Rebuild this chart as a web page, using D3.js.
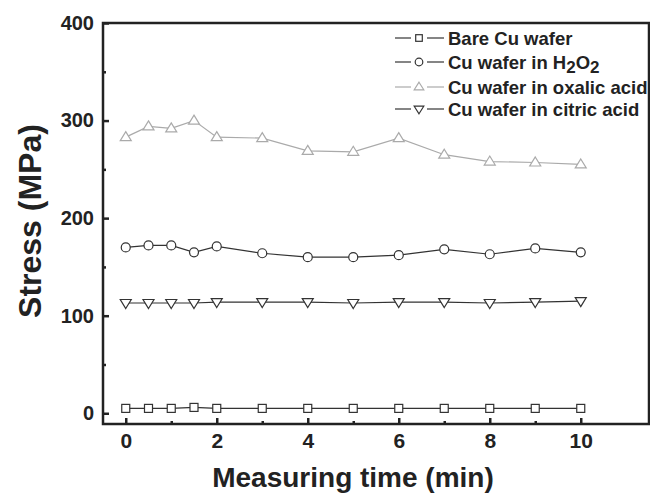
<!DOCTYPE html>
<html>
<head>
<meta charset="utf-8">
<script src="https://cdn.jsdelivr.net/npm/d3@7"></script>
<style>
  body { margin: 0; background: #fff; }
  text { font-family: "Liberation Sans", Arial, sans-serif; font-weight: bold; fill: #222; }
</style>
</head>
<body>
<svg id="chart" width="650" height="500"></svg>
<script>
// measuring times (min)
const times = [0, 0.5, 1, 1.5, 2, 3, 4, 5, 6, 7, 8, 9, 10];

const bareCu = [5, 5, 5, 6, 5, 5, 5, 5, 5, 5, 5, 5, 5];
const h2o2 = [170, 172, 172, 165, 171, 164, 160, 160, 162, 168, 163, 169, 165];
const oxalic = [283, 294, 292, 300, 283, 282, 269, 268, 282, 265, 258, 257, 255];
const citric = [113, 113, 113, 113, 114, 114, 114, 113, 114, 114, 113, 114, 115];

const xTicks = [0, 2, 4, 6, 8, 10];
const yTicks = [0, 100, 200, 300, 400];

const series = [
  {name: "Bare Cu wafer", values: bareCu, shape: "square", color: "#333"},
  {name: "Cu wafer in H2O2", values: h2o2, shape: "circle", color: "#333"},
  {name: "Cu wafer in oxalic acid", values: oxalic, shape: "up", color: "#aaa"},
  {name: "Cu wafer in citric acid", values: citric, shape: "down", color: "#333"}
];

const svg = d3.select("#chart");
const mLeft = 103, mRight = 649, mTop = 23, mBottom = 424;

const x = d3.scaleLinear().domain([-0.5, 11.5]).range([mLeft, mRight]);
const y = d3.scaleLinear().domain([-11, 400]).range([mBottom, mTop]);

// frame
svg.append("rect")
  .attr("x", mLeft).attr("y", mTop)
  .attr("width", mRight - mLeft).attr("height", mBottom - mTop)
  .attr("fill", "none").attr("stroke", "#222").attr("stroke-width", 2.5);

// x ticks (inside)
const xAxis = svg.append("g").attr("transform", `translate(0,${mBottom})`)
  .call(d3.axisBottom(x).tickValues(xTicks).tickSizeInner(-6).tickSizeOuter(0).tickPadding(9));
xAxis.select(".domain").remove();
xAxis.selectAll("line").attr("stroke", "#222").attr("stroke-width", 2.5);
xAxis.selectAll("text").attr("font-size", 21).attr("fill", "#222")
  .attr("font-family", "Liberation Sans, Arial, sans-serif").attr("font-weight", "bold");

const xMinor = svg.append("g").attr("transform", `translate(0,${mBottom})`)
  .call(d3.axisBottom(x).tickValues([1, 3, 5, 7, 9]).tickSizeInner(-3).tickSizeOuter(0).tickFormat(""));
xMinor.select(".domain").remove();
xMinor.selectAll("line").attr("stroke", "#222").attr("stroke-width", 2.5);

// y ticks (inside)
const yAxis = svg.append("g").attr("transform", `translate(${mLeft},0)`)
  .call(d3.axisLeft(y).tickValues(yTicks).tickSizeInner(-6).tickSizeOuter(0).tickPadding(9));
yAxis.select(".domain").remove();
yAxis.selectAll("line").attr("stroke", "#222").attr("stroke-width", 2.5);
yAxis.selectAll("text").attr("font-size", 20).attr("fill", "#222")
  .attr("font-family", "Liberation Sans, Arial, sans-serif").attr("font-weight", "bold");

const yMinor = svg.append("g").attr("transform", `translate(${mLeft},0)`)
  .call(d3.axisLeft(y).tickValues([50, 150, 250, 350]).tickSizeInner(-3).tickSizeOuter(0).tickFormat(""));
yMinor.select(".domain").remove();
yMinor.selectAll("line").attr("stroke", "#222").attr("stroke-width", 2.5);

// axis titles
svg.append("text")
  .attr("x", 353).attr("y", 487)
  .attr("text-anchor", "middle").attr("font-size", 28)
  .text("Measuring time (min)");

svg.append("text")
  .attr("transform", "translate(41,221) rotate(-90)")
  .attr("text-anchor", "middle").attr("font-size", 32)
  .text("Stress (MPa)");

// marker drawing
function marker(g, shape, cx, cy, color, s) {
  if (shape === "square") {
    g.append("rect").attr("x", cx - s).attr("y", cy - s).attr("width", 2 * s).attr("height", 2 * s)
      .attr("fill", "#fff").attr("stroke", color).attr("stroke-width", 1.2);
  } else if (shape === "circle") {
    g.append("circle").attr("cx", cx).attr("cy", cy).attr("r", s + 0.5)
      .attr("fill", "#fff").attr("stroke", color).attr("stroke-width", 1.2);
  } else if (shape === "up") {
    g.append("path").attr("d", `M${cx},${cy - s - 1.5}L${cx + s + 1.5},${cy + s - 0.5}L${cx - s - 1.5},${cy + s - 0.5}Z`)
      .attr("fill", "#fff").attr("stroke", color).attr("stroke-width", 1.2);
  } else {
    g.append("path").attr("d", `M${cx},${cy + s + 1.5}L${cx + s + 1.5},${cy - s + 0.5}L${cx - s - 1.5},${cy - s + 0.5}Z`)
      .attr("fill", "#fff").attr("stroke", color).attr("stroke-width", 1.2);
  }
}

const line = d3.line().x((d, i) => x(times[i])).y(d => y(d));

series.forEach(s => {
  svg.append("path").datum(s.values)
    .attr("d", line).attr("fill", "none")
    .attr("stroke", s.color).attr("stroke-width", 1.2);
  const g = svg.append("g");
  s.values.forEach((v, i) => marker(g, s.shape, x(times[i]), y(v), s.color, 4));
});

// legend
const legendRows = [38, 62, 87, 109];
series.forEach((s, i) => {
  const ly = legendRows[i];
  const g = svg.append("g");
  g.append("line").attr("x1", 395).attr("x2", 411).attr("y1", ly).attr("y2", ly)
    .attr("stroke", s.color).attr("stroke-width", 1.2);
  g.append("line").attr("x1", 427).attr("x2", 444).attr("y1", ly).attr("y2", ly)
    .attr("stroke", s.color).attr("stroke-width", 1.2);
  marker(g, s.shape, 419, ly, s.color, 3.3);
  const t = g.append("text").attr("x", 448).attr("y", ly + 7).attr("font-size", 18.5);
  if (s.name === "Cu wafer in H2O2") {
    t.append("tspan").text("Cu wafer in H");
    t.append("tspan").attr("dy", 4).attr("font-size", 17).text("2");
    t.append("tspan").attr("dy", -4).text("O");
    t.append("tspan").attr("dy", 4).attr("font-size", 17).text("2");
  } else {
    t.text(s.name);
  }
});
</script>
</body>
</html>
